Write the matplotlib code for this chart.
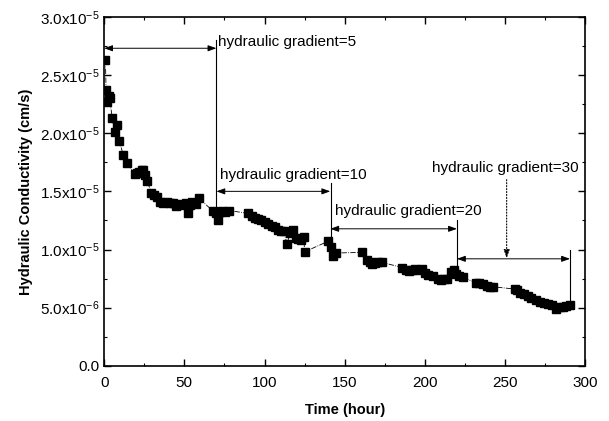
import numpy as np
import matplotlib
matplotlib.use("Agg")
import matplotlib.pyplot as plt
from matplotlib.ticker import FuncFormatter, MultipleLocator

plt.rcParams['font.family'] = ['Liberation Sans', 'DejaVu Sans']
plt.rcParams['mathtext.fontset'] = 'custom'
plt.rcParams['mathtext.rm'] = 'Liberation Sans'
plt.rcParams['mathtext.it'] = 'Liberation Sans:italic'
plt.rcParams['mathtext.bf'] = 'Liberation Sans:bold'

# time (hour) and hydraulic conductivity (x1e-5 cm/s)
time_h = [0.8, 1.2, 2.0, 3.0, 3.5, 5.0, 6.5, 8.0, 9.5, 12, 14.5, 19, 20.5, 22, 23.5, 24.5,
          25.5, 26.8, 29.5, 31, 33, 35, 37, 39, 41, 43, 45, 47, 49, 51, 52, 53.5, 55, 57, 59,
          68, 69.5, 71, 72, 73.5, 75.5, 78, 90, 92, 94, 96, 98, 100, 102, 104.5, 106.5, 108.5,
          110.5, 112, 114, 116, 118, 119.5, 121, 122.5, 124.5, 125, 139.5, 141.5, 143, 144.5,
          160.5, 164, 165.5, 167, 169, 171, 173, 186, 188, 190, 192, 194, 196, 198, 200, 202,
          205, 208, 210, 212, 214, 216.5, 218, 219.5, 221.5, 223.5,
          232, 234, 236, 238.5, 240.5, 242.5, 256, 257.5, 259.5, 261.5, 264, 266, 269, 271.5,
          274, 277, 279.5, 282, 284, 286, 288, 290.5]
k_1e5 = [2.63, 2.37, 2.27, 2.32, 2.30, 2.13, 2.01, 2.07, 1.93, 1.81, 1.74, 1.65, 1.66, 1.67, 1.68, 1.685,
         1.64, 1.585, 1.49, 1.47, 1.455, 1.41, 1.40, 1.41, 1.40, 1.40, 1.37, 1.39, 1.38, 1.40, 1.31, 1.38, 1.41, 1.39, 1.44,
         1.33, 1.31, 1.25, 1.32, 1.33, 1.32, 1.335, 1.31, 1.29, 1.27, 1.26, 1.25, 1.24, 1.22, 1.20, 1.19, 1.17,
         1.16, 1.155, 1.05, 1.14, 1.17, 1.10, 1.09, 1.08, 1.11, 0.98, 1.07, 1.02, 0.94, 0.97,
         0.975, 0.91, 0.89, 0.875, 0.885, 0.89, 0.89, 0.845, 0.825, 0.815, 0.82, 0.83, 0.82, 0.83, 0.80, 0.78,
         0.77, 0.75, 0.74, 0.745, 0.745, 0.81, 0.825, 0.79, 0.775, 0.76,
         0.715, 0.71, 0.70, 0.685, 0.68, 0.68, 0.66, 0.65, 0.63, 0.62, 0.60, 0.58, 0.565, 0.55,
         0.54, 0.53, 0.52, 0.49, 0.505, 0.51, 0.515, 0.525]

# hydraulic gradient stages: start, end (hour), arrow level (x1e-5)
gradients = ["5", "10", "20", "30"]
stage_start = [0, 70, 141, 220]
stage_end = [70, 141, 220, 290.5]
arrow_y = [2.73, 1.50, 1.178, 0.92]

k = np.array(k_1e5) * 1e-5

fig = plt.figure(figsize=(6.09, 4.21), dpi=100)
ax = fig.add_axes([0.171, 0.131, 0.790, 0.829])

ax.plot(time_h, k, color='black', ls='-.', lw=0.6, marker='s', ms=5.5,
        mec='black', mfc='black')

ax.set_xlim(0, 300)
ax.set_ylim(0, 3.0e-5)
ax.xaxis.set_major_locator(MultipleLocator(50))
ax.xaxis.set_minor_locator(MultipleLocator(25))
ax.yaxis.set_major_locator(MultipleLocator(0.5e-5))
ax.yaxis.set_minor_locator(MultipleLocator(0.25e-5))


def sci(v, pos):
    if abs(v) < 1e-12:
        return "0.0"
    if v < 0:
        return ""
    e = int(np.floor(np.log10(v) + 1e-9))
    m = v / 10 ** e
    return "%.1fx10$^{%d}$" % (m, e)


ax.yaxis.set_major_formatter(FuncFormatter(sci))
ax.tick_params(which='both', direction='in', top=True, right=True, labelsize=11)
ax.tick_params(axis='x', pad=7.5)
ax.tick_params(which='major', length=5, width=1)
ax.tick_params(which='minor', length=2.5, width=0.8)
for s in ax.spines.values():
    s.set_linewidth(1.2)

ax.set_xlabel("Time (hour)", fontsize=10.5, fontweight='bold', labelpad=9)
ax.set_ylabel("Hydraulic Conductivity (cm/s)", fontsize=10.5, fontweight='bold', labelpad=5)

head = '<|-|>,head_length=0.5,head_width=0.18'
for i in range(len(gradients)):
    y = arrow_y[i] * 1e-5
    ax.annotate("", xy=(stage_end[i], y), xytext=(stage_start[i], y),
                arrowprops=dict(arrowstyle=head, color='black', lw=0.7,
                                shrinkA=0, shrinkB=0))

# vertical boundary lines (hour, bottom, top in x1e-5)
ax.plot([70, 70], [1.36e-5, 2.80e-5], color='black', lw=0.8)
ax.plot([141.5, 141.5], [1.08e-5, 1.57e-5], color='black', lw=0.8)
ax.plot([220, 220], [0.85e-5, 1.255e-5], color='black', lw=0.8)
ax.plot([290.5, 290.5], [0.52e-5, 1.0e-5], color='black', lw=0.8)

ax.text(71, 2.78e-5, "hydraulic gradient=5", fontsize=11, va='center', ha='left')
ax.text(72, 1.64e-5, "hydraulic gradient=10", fontsize=11, va='center', ha='left')
ax.text(144, 1.335e-5, "hydraulic gradient=20", fontsize=11, va='center', ha='left')
ax.text(296, 1.70e-5, "hydraulic gradient=30", fontsize=11, va='center', ha='right')

ax.annotate("", xy=(251, 0.925e-5), xytext=(251, 1.60e-5),
            arrowprops=dict(arrowstyle='-|>,head_length=0.5,head_width=0.18',
                            color='black', lw=0.8, ls=':', shrinkA=0, shrinkB=0))

fig.savefig("out.png", dpi=100)
